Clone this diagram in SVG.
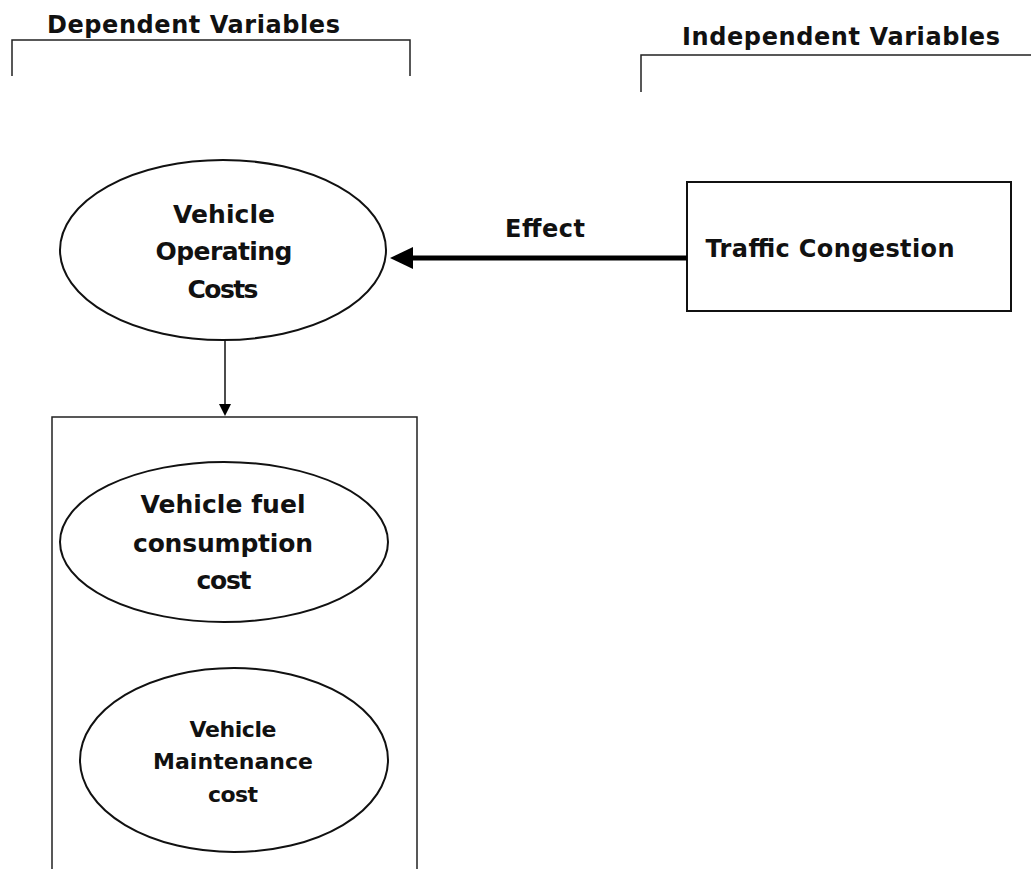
<svg xmlns="http://www.w3.org/2000/svg" width="1031" height="869" viewBox="0 0 1031 869">
<defs>
<style>
text{font-family:"DejaVu Sans","Open Sans",sans-serif;font-weight:bold;fill:#111;text-anchor:middle}
.hdr{font-size:24px;text-anchor:start}
.br{fill:none;stroke:#222;stroke-width:1.5}
.shape{fill:#fff;stroke:#111;stroke-width:2}
.t25{font-size:25px}
.t24{font-size:24px}
.t22{font-size:22px}
</style>
</defs>
<rect width="1031" height="869" fill="#fff"/>
<g id="dependent-header">
<path class="br" d="M12,76 V40 H410 V76"/>
<text class="hdr" x="47" y="33" textLength="293">Dependent Variables</text>
</g>
<g id="independent-header">
<path class="br" d="M641,92 V55 H1031"/>
<text class="hdr" x="682" y="45" textLength="318">Independent Variables</text>
</g>
<g id="container">
<path class="br" d="M52,869 V417 H417 V869"/>
</g>
<g id="vehicle-operating-costs">
<ellipse class="shape" cx="223" cy="250" rx="163" ry="90"/>
<text class="t25" x="224" y="223" textLength="102">Vehicle</text>
<text class="t25" x="224" y="260" textLength="137">Operating</text>
<text class="t25" x="223" y="298" textLength="71">Costs</text>
</g>
<g id="traffic-congestion">
<rect class="shape" x="687" y="182" width="324" height="129"/>
<text class="t24" x="830" y="257" textLength="249">Traffic Congestion</text>
</g>
<g id="fuel-cost">
<ellipse class="shape" cx="224" cy="542" rx="164" ry="80"/>
<text class="t25" x="223" y="513" textLength="165">Vehicle fuel</text>
<text class="t25" x="223" y="552" textLength="180">consumption</text>
<text class="t25" x="224" y="589" textLength="55">cost</text>
</g>
<g id="maintenance-cost">
<ellipse class="shape" cx="234" cy="760" rx="154" ry="92"/>
<text class="t22" x="233" y="737" textLength="87">Vehicle</text>
<text class="t22" x="233" y="769" textLength="160">Maintenance</text>
<text class="t22" x="233" y="802" textLength="50">cost</text>
</g>
<g id="connectors">
<line x1="687" y1="258" x2="408" y2="258" stroke="#000" stroke-width="5"/>
<polygon points="390,258 413,247 413,269" fill="#000"/>
<text class="t24" x="545" y="237" textLength="80">Effect</text>
<line x1="225" y1="340" x2="225" y2="405" stroke="#111" stroke-width="1.5"/>
<polygon points="219,404 231,404 225,416" fill="#000"/>
</g>
</svg>
